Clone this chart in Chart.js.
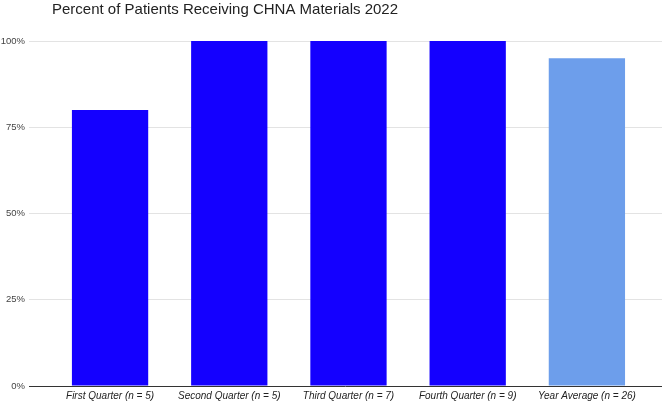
<!DOCTYPE html>
<html>
<head>
<meta charset="utf-8">
<script src="https://cdn.jsdelivr.net/npm/chart.js@4.4.0/dist/chart.umd.min.js"></script>
<style>
  html, body { margin: 0; padding: 0; background: #fff; }
  #wrap { width: 666px; height: 401px; position: relative; }
</style>
</head>
<body>
<div id="wrap"><canvas id="chart"></canvas></div>
<script>
// Percent of patients receiving CHNA materials, per quarter
const categories = ['First Quarter (n = 5)', 'Second Quarter (n = 5)', 'Third Quarter (n = 7)', 'Fourth Quarter (n = 9)', 'Year Average (n = 26)'];
const percents = [80, 100, 100, 100, 95];
const barColors = ['#1400ff', '#1400ff', '#1400ff', '#1400ff', '#6d9eeb'];
const yTicks = [0, 25, 50, 75, 100];
const titleText = 'Percent of Patients Receiving CHNA Materials 2022';

// title drawn left-aligned above the plot, like the sheet export
const titlePlugin = {
  id: 'sheetTitle',
  afterDraw(chart) {
    const ctx = chart.ctx;
    ctx.save();
    ctx.font = '15px "Liberation Sans", Arial, sans-serif';
    ctx.fillStyle = '#222';
    ctx.textBaseline = 'alphabetic';
    ctx.fillText(titleText, 52, 14);
    ctx.restore();
  }
};

new Chart(document.getElementById('chart'), {
  type: 'bar',
  data: {
    datasets: [{
      data: percents.map((v, i) => ({ x: i, y: v })),
      backgroundColor: barColors,
      borderWidth: 0,
      categoryPercentage: 1,
      barPercentage: 0.64
    }]
  },
  options: {
    responsive: true,
    maintainAspectRatio: false,
    animation: false,
    layout: { padding: { top: 41, right: 4, bottom: -5, left: 0 } },
    plugins: { legend: { display: false }, tooltip: { enabled: false } },
    scales: {
      x: {
        type: 'linear',
        offset: false,
        min: -0.68,
        max: 4.63,
        afterBuildTicks: s => { s.ticks = categories.map((c, i) => ({ value: i })); },
        ticks: {
          callback: v => categories[v],
          color: '#222',
          font: { family: '"Liberation Sans", Arial, sans-serif', size: 10, style: 'italic' },
          padding: 4,
          maxRotation: 0,
          autoSkip: false
        },
        grid: { display: false, drawTicks: false },
        border: { display: false }
      },
      y: {
        min: 0,
        max: 100,
        afterBuildTicks: s => { s.ticks = yTicks.map(v => ({ value: v })); },
        afterFit: s => { s.width = 29; },
        ticks: {
          callback: v => v + '%',
          color: '#444',
          font: { family: '"Liberation Sans", Arial, sans-serif', size: 9.5 },
          padding: 4
        },
        grid: {
          color: c => c.tick && c.tick.value === 0 ? '#333' : '#e3e3e3',
          lineWidth: 1,
          drawTicks: false
        },
        border: { display: false }
      }
    }
  },
  plugins: [titlePlugin]
});
</script>
</body>
</html>
